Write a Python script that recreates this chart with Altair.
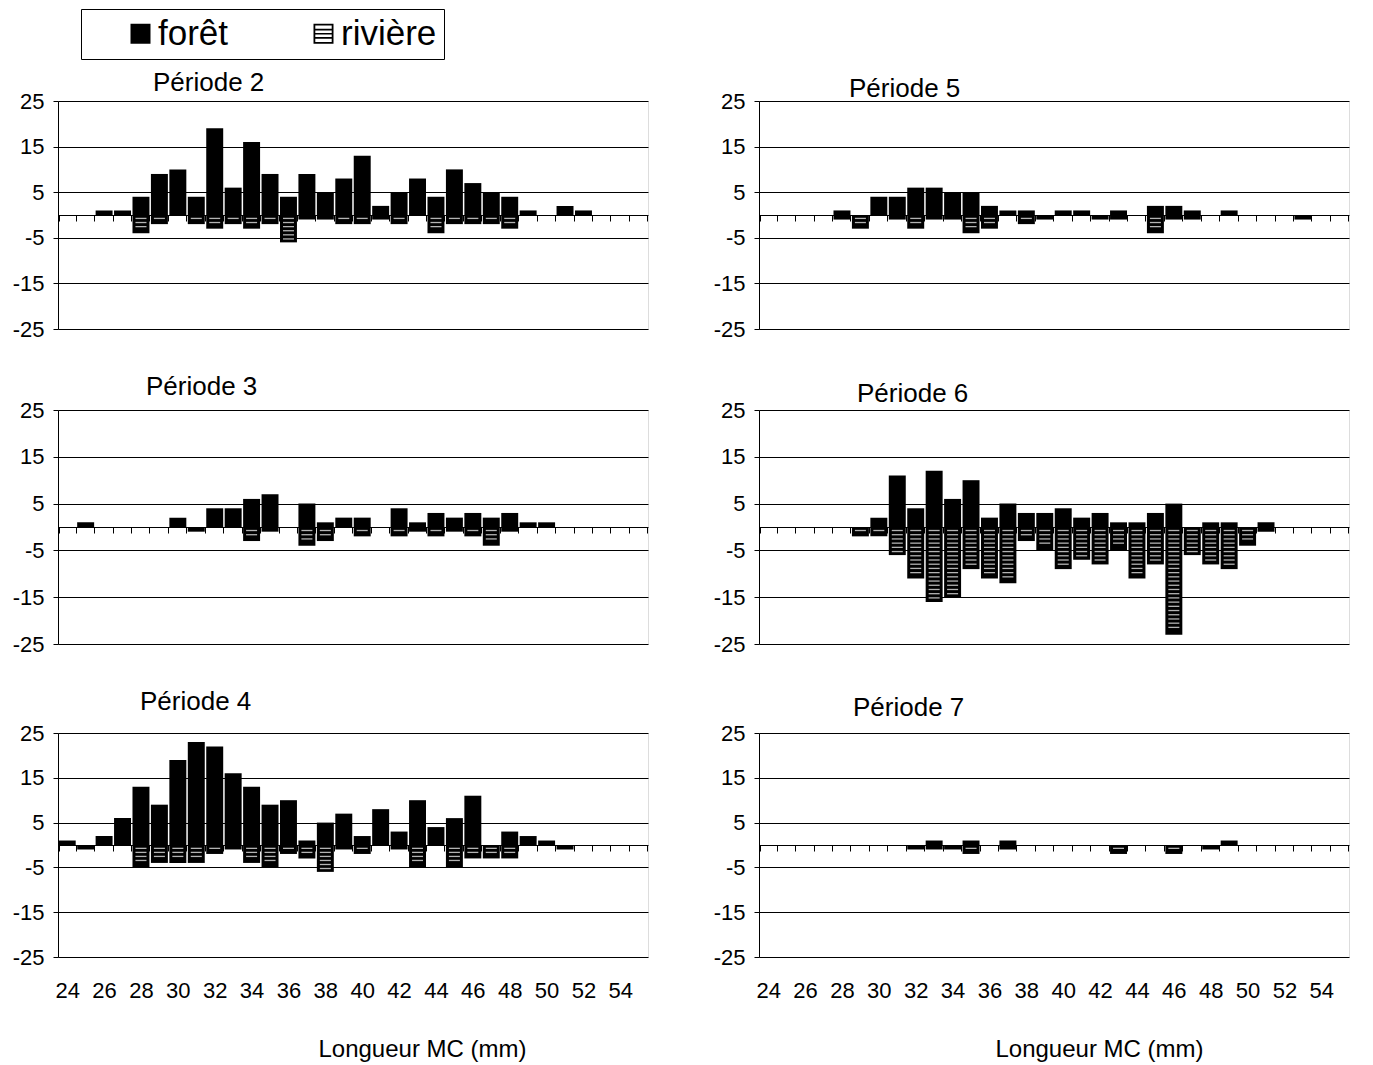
import altair as alt
import pandas as pd

FONT = "Liberation Sans"

# Carapace length classes (mm)
longueurs = list(range(24, 56))
series = ["forêt", "rivière"]

# Counts per length class, 24..55 mm (forêt above zero, rivière below)
foret_p2 = [0, 0, 1, 1, 4, 9, 10, 4, 19, 6, 16, 9, 4, 9, 5, 8, 13, 2, 5, 8, 4, 10, 7, 5, 4, 1, 0, 2, 1, 0, 0, 0]
riviere_p2 = [0, 0, 0, 0, -4, -2, 0, -2, -3, -2, -3, -2, -6, -1, -1, -2, -2, -1, -2, 0, -4, -2, -2, -2, -3, 0, 0, 0, 0, 0, 0, 0]

foret_p3 = [0, 1, 0, 0, 0, 0, 2, 0, 4, 4, 6, 7, 0, 5, 1, 2, 2, 0, 4, 1, 3, 2, 3, 2, 3, 1, 1, 0, 0, 0, 0, 0]
riviere_p3 = [0, 0, 0, 0, 0, 0, 0, -1, 0, 0, -3, -1, 0, -4, -3, 0, -2, 0, -2, -1, -2, -1, -2, -4, -1, 0, 0, 0, 0, 0, 0, 0]

foret_p4 = [1, 0, 2, 6, 13, 9, 19, 23, 22, 16, 13, 9, 10, 1, 5, 7, 2, 8, 3, 10, 4, 6, 11, 0, 3, 2, 1, 0, 0, 0, 0, 0]
riviere_p4 = [0, -1, 0, 0, -5, -4, -4, -4, -2, -1, -4, -5, -2, -3, -6, -1, -2, 0, -1, -5, 0, -5, -3, -3, -3, 0, 0, -1, 0, 0, 0, 0]

foret_p5 = [0, 0, 0, 0, 1, 0, 4, 4, 6, 6, 5, 5, 2, 1, 1, 0, 1, 1, 0, 1, 0, 2, 2, 1, 0, 1, 0, 0, 0, 0, 0, 0]
riviere_p5 = [0, 0, 0, 0, -1, -3, 0, -1, -3, -1, -1, -4, -3, 0, -2, -1, 0, 0, -1, -1, 0, -4, -1, -1, 0, 0, 0, 0, 0, -1, 0, 0]

foret_p6 = [0, 0, 0, 0, 0, 0, 2, 11, 4, 12, 6, 10, 2, 5, 3, 3, 4, 2, 3, 1, 1, 3, 5, 0, 1, 1, 0, 1, 0, 0, 0, 0]
riviere_p6 = [0, 0, 0, 0, 0, -2, -2, -6, -11, -16, -15, -9, -11, -12, -3, -5, -9, -7, -8, -5, -11, -8, -23, -6, -8, -9, -4, -1, 0, 0, 0, 0]

foret_p7 = [0, 0, 0, 0, 0, 0, 0, 0, 0, 1, 0, 1, 0, 1, 0, 0, 0, 0, 0, 0, 0, 0, 0, 0, 0, 1, 0, 0, 0, 0, 0, 0]
riviere_p7 = [0, 0, 0, 0, 0, 0, 0, 0, -1, -1, -1, -2, 0, -1, 0, 0, 0, 0, 0, -2, 0, 0, -2, 0, -1, 0, 0, 0, 0, 0, 0, 0]

# Legend glyphs: solid square, and a framed square with horizontal hatching
SQUARE = "M-1,-1H1V1H-1Z"
HATCHED = ("M-1,-1H1V1H-1Z M-0.82,-0.82V0.82H0.82V-0.82Z "
           "M-0.82,-0.5H0.82V-0.33H-0.82Z M-0.82,-0.08H0.82V0.08H-0.82Z "
           "M-0.82,0.33H0.82V0.5H-0.82Z")

W = 590
y_ticks = [25, 15, 5, -5, -15, -25]


def hatch_levels(riviere):
    """White hatch lines drawn across each rivière bar."""
    rows = []
    for lg, v in zip(longueurs, riviere):
        lvl = -0.75
        while v < 0 and lvl > v + 0.7:
            rows.append({"longueur": lg, "niveau": lvl})
            lvl -= 0.9
    return pd.DataFrame(rows, columns=["longueur", "niveau"])


def panel(num, foret, riviere, height, bottom, title_dx, title_offset, title_x=None, with_legend=False):
    df = pd.DataFrame({
        "longueur": longueurs * 2,
        "serie": ["forêt"] * len(longueurs) + ["rivière"] * len(longueurs),
        "valeur": foret + riviere,
    })
    df = df[df["valeur"] != 0]

    x_scale = alt.Scale(domain=longueurs, paddingInner=0.08, paddingOuter=0.04)
    y_scale = alt.Scale(domain=[-25, 25], nice=False)

    axis_kw = dict(
        offset=-height / 2, domain=True, domainColor="black", domainWidth=1,
        ticks=True, tickBand="extent", tickSize=6, tickColor="black", tickWidth=1,
        grid=False,
    )
    if bottom:
        x_axis = alt.Axis(
            labels=True, labelExpr="datum.value % 2 == 0 ? datum.label : ''",
            labelAngle=0, labelFontSize=22, labelFont=FONT, labelColor="black",
            labelPadding=height / 2 + 17,
            title="Longueur MC (mm)", titleFontSize=24, titleFont=FONT,
            titleFontWeight="normal", titleColor="black", titlePadding=36,
            titleX=title_x, **axis_kw)
    else:
        x_axis = alt.Axis(labels=False, title=None, **axis_kw)

    y_axis = alt.Axis(
        values=y_ticks, grid=True, gridColor="black", gridWidth=1,
        domain=True, domainColor="black", ticks=True, tickSize=5, tickColor="black",
        labelExpr="'' + datum.value",
        labelFontSize=22, labelFont=FONT, labelColor="black", labelPadding=9, title=None)

    bars = alt.Chart(df).mark_bar(color="black").encode(
        x=alt.X("longueur:O", scale=x_scale, axis=x_axis),
        y=alt.Y("valeur:Q", scale=y_scale, axis=y_axis),
        y2=alt.datum(0),
    )
    hatch = alt.Chart(hatch_levels(riviere)).mark_tick(
        color="white", thickness=1.3, size=11, orient="horizontal"
    ).encode(
        x=alt.X("longueur:O", scale=x_scale),
        y=alt.Y("niveau:Q", scale=y_scale),
    )
    layers = [bars, hatch]
    if with_legend:
        key = alt.Chart(pd.DataFrame({"serie": series})).mark_point(
            filled=True, color="black", opacity=1
        ).encode(
            shape=alt.Shape(
                "serie:N",
                scale=alt.Scale(domain=series, range=[SQUARE, HATCHED]),
                legend=alt.Legend(
                    orient="none", legendX=23, legendY=-92, direction="horizontal",
                    title=None, strokeColor="black", fillColor="white", padding=7,
                    symbolSize=400, symbolOffset=35, symbolStrokeWidth=0,
                    symbolFillColor="black", labelOffset=0, columnPadding=42,
                    labelFontSize=35, labelFont=FONT, labelColor="black",
                ),
            )
        ).transform_filter("false")
        layers.append(key)

    return alt.layer(*layers).properties(
        width=W, height=height,
        title=alt.TitleParams(
            text=f"Période {num}", anchor="start", frame="group", dx=title_dx,
            offset=title_offset, fontSize=26, font=FONT, fontWeight="normal", color="black"),
    )


p2 = panel(2, foret_p2, riviere_p2, 228, False, 95, -6, with_legend=True)
p5 = panel(5, foret_p5, riviere_p5, 228, False, 90, -12)
p3 = panel(3, foret_p3, riviere_p3, 234, False, 88, -1)
p6 = panel(6, foret_p6, riviere_p6, 234, False, 98, -8)
p4 = panel(4, foret_p4, riviere_p4, 224, True, 82, 7, title_x=364)
p7 = panel(7, foret_p7, riviere_p7, 224, True, 94, 1, title_x=340)

chart = alt.vconcat(
    alt.hconcat(p2, p5, spacing=63),
    alt.hconcat(p3, p6, spacing=63),
    alt.hconcat(p4, p7, spacing=63),
    spacing=32,
).properties(
    padding={"left": 11, "top": 8, "right": 5, "bottom": 5},
).configure_view(stroke=None).configure(font=FONT)

chart.save("out.html", embed_options={"renderer": "svg", "actions": False})
